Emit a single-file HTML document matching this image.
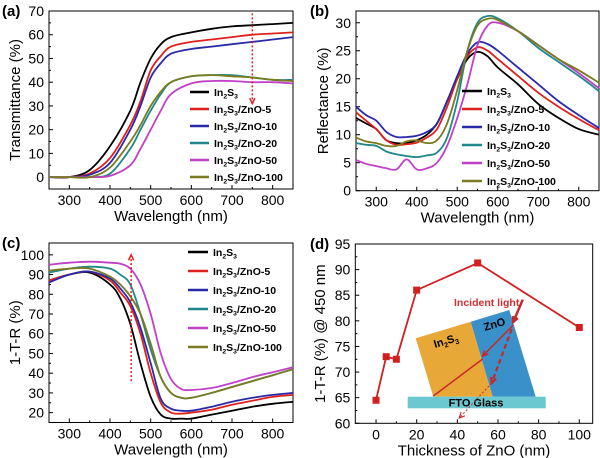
<!DOCTYPE html>
<html><head><meta charset="utf-8"><style>
html,body{margin:0;padding:0;background:#fff}
svg{display:block;font-family:"Liberation Sans",Arial,sans-serif}
</style></head><body>
<svg id="fig" width="600" height="458" viewBox="0 0 600 458"></svg>
<script>
// ---------- data ----------
const seriesNames=["In2S3","In2S3/ZnO-5","In2S3/ZnO-10","In2S3/ZnO-20","In2S3/ZnO-50","In2S3/ZnO-100"];
const seriesColors=["#000000","#e0201c","#2a2aa8","#20888a","#c040c8","#7a7a20"];
// (a) transmittance
const wlA=[250,300,350,400,450,475,500,525,550,600,650,700,750,800,850];
const tA0=[0,0,3,13,28,40,50,56,59,61,62.5,63.5,64,64.5,65];
const tA1=[0,0,1.5,8,22,32,45,51,55,57,58,59,60,60.5,61];
const tA2=[0,0,1,6,20,30,42,48,52,54,55,56,57,58,59];
const tA3=[0,0,0,1.5,12,20,28,35,40,42.5,43,43,42,41,41];
const tA4=[0,0,0,0.5,5,12,20,28,35,39.5,40.5,40.5,40,40,39.5];
const tA5=[0,0,0,4,15,22,30,36,40,42.5,43,42.5,42,41,40.5];
// (b) reflectance
const wlB=[250,275,300,325,350,375,400,425,450,475,500,525,550,575,600,650,700,750,800,850];
const rB0=[13,12,11,9,8.5,8.5,9,10,12,16,20,23.5,24.8,24,22,19,15.5,13,11,10];
const rB1=[14,12.5,11,9,8.2,8.3,8.6,9.5,11,15,20,24,25.6,25,23.5,20.5,17.5,15,12.8,10.8];
const rB2=[15,13.5,12.5,10.5,9.6,9.6,9.8,10.5,12,16,20.5,24.5,26.5,26.2,25,22,19,16,13.5,11.2];
const rB3=[8.5,8.2,8,7,6.5,6.2,6,6.3,6.8,9.5,16,25,30,31.2,30.8,28.5,25.5,23,20.5,17.8];
const rB4=[5.5,4.8,4.4,4,3.8,5.6,3.8,4,5,8,13,19,26,29.5,30,28.5,26,23.5,21,18.3];
const rB5=[9.5,8.8,8.5,8,8,8.8,9,8.5,9,12,18,25,29.5,30.7,30.5,28.5,26,23.5,21.5,19.3];
// (c) 1-T-R
const wlC=[250,300,350,400,425,450,475,500,525,550,575,600,650,700,750,800,850];
const aC0=[87,90,91,85,78,65,45,28,19,17,17,17,19,21,23,24.5,25.5];
const aC1=[87,90,91.5,87,81,74,60,40,25,20,19.5,20,21.5,24,26,28,29];
const aC2=[86,90,91.5,88,83,76,63,45,27,22,21,21,23,25.5,27.5,29,30];
const aC3=[91,93,94,93,90,85,70,52,38,30,27.5,27.5,30,33,36,39,42];
const aC4=[95,96,96.5,96,95.5,93,85,70,50,37,32,31.5,32.5,35,38,40.5,43];
const aC5=[92,93,93,89,85,79,70,55,38,30,27.5,27.5,30,33,36,39,42];
// (d) 1-T-R @450 vs thickness
const thickD=[0,5,10,20,50,100];
const valD=[64.5,73,72.5,86,91.3,78.7];
const ticksWl=[300,400,500,600,700,800];
const ticksA=[0,10,20,30,40,50,60,70];
const ticksB=[0,5,10,15,20,25,30];
const ticksC=[20,30,40,50,60,70,80,90,100];
const ticksDx=[0,20,40,60,80,100];
const ticksDy=[60,65,70,75,80,85,90,95];

const NS="http://www.w3.org/2000/svg";
const svg=document.getElementById('fig');
function mk(tag,attrs,parent){const e=document.createElementNS(NS,tag);for(const k in attrs)e.setAttribute(k,attrs[k]);(parent||svg).appendChild(e);return e;}
function scale(d0,d1,p0,p1){return v=>p0+(v-d0)/(d1-d0)*(p1-p0);}
function subText(parent,x,y,str,size,weight,anchor,fill){
  const t=mk('text',{x:x,y:y,'font-size':size,'font-weight':weight||'normal','text-anchor':anchor||'start',fill:fill||'#000'},parent);
  let s=str.replace('In2S3','In§2§S§3§');
  const segs=s.split('§');
  segs.forEach((sg,i)=>{if(!sg)return;const ts=mk('tspan',{},t);ts.textContent=sg;if(i%2===1){ts.setAttribute('font-size',size*0.65);ts.setAttribute('dy',size*0.25);}else if(i>0){ts.setAttribute('dy',-size*0.25);}});
  return t;
}
function panel(o){
  const g=mk('g',{});
  
  
  const X=scale(o.xd[0],o.xd[1],o.L,o.R), Y=scale(o.yd[0],o.yd[1],o.B,o.T);
  const box=mk('rect',{x:o.L,y:o.T,width:o.R-o.L,height:o.B-o.T,fill:'none',stroke:'#000','stroke-width':1},g);
  
  const xa=mk('g',{},g);
  o.xt.forEach((v,i)=>{const x=X(v);mk('line',{x1:x,x2:x,y1:o.B,y2:o.B-4,stroke:'#000'},xa);
    const t=mk('text',{x:x,y:o.B+16,'font-size':14,'text-anchor':'middle'},xa);t.textContent=v;
    
    if(i<o.xt.length-1){const xm=X((v+o.xt[i+1])/2);mk('line',{x1:xm,x2:xm,y1:o.B,y2:o.B-2,stroke:'#000'},xa);}});
  const ya=mk('g',{},g);
  o.yt.forEach((v,i)=>{const y=Y(v);mk('line',{x1:o.L,x2:o.L+4,y1:y,y2:y,stroke:'#000'},ya);
    const t=mk('text',{x:o.L-5,y:y+5,'font-size':14,'text-anchor':'end'},ya);t.textContent=v;
    
    if(i<o.yt.length-1){const ym=Y((v+o.yt[i+1])/2);mk('line',{x1:o.L,x2:o.L+2,y1:ym,y2:ym,stroke:'#000'},ya);}});
  const xt=mk('text',{x:(o.L+o.R)/2,y:o.B+32,'font-size':15,'text-anchor':'middle'},g);xt.textContent=o.xlabel;
  
  const ytl=mk('text',{x:0,y:0,'font-size':15,'text-anchor':'middle',transform:`translate(${o.ylx},${(o.T+o.B)/2}) rotate(-90)`},g);ytl.textContent=o.ylabel;
  
  const pl=mk('text',{x:o.plx,y:o.ply,'font-size':15,'font-weight':'bold'},g);pl.textContent=o.tag;
  
  return {g,X,Y};
}
function smoothPath(pts){
  let d='M'+pts[0][0].toFixed(1)+','+pts[0][1].toFixed(1);
  for(let i=0;i<pts.length-1;i++){
    const p0=pts[Math.max(0,i-1)],p1=pts[i],p2=pts[i+1],p3=pts[Math.min(pts.length-1,i+2)];
    const c1x=p1[0]+(p2[0]-p0[0])/6,c1y=p1[1]+(p2[1]-p0[1])/6;
    const c2x=p2[0]-(p3[0]-p1[0])/6,c2y=p2[1]-(p3[1]-p1[1])/6;
    d+=`C${c1x.toFixed(1)},${c1y.toFixed(1)} ${c2x.toFixed(1)},${c2y.toFixed(1)} ${p2[0].toFixed(1)},${p2[1].toFixed(1)}`;
  }
  return d;
}
function drawSeries(p,xs,ysArr){
  ysArr.forEach((ys,i)=>{
    const pts=xs.map((x,j)=>[p.X(x),p.Y(ys[j])]);
    const path=mk('path',{d:smoothPath(pts),fill:'none',stroke:seriesColors[i],'stroke-width':1.8,'stroke-linejoin':'round'},p.g);
    
    
  });
}
function legend(p,x1,x2,y0,dy){
  const lg=mk('g',{},p.g);
  seriesNames.forEach((n,i)=>{const y=y0+i*dy;
    const e=mk('g',{},lg);
    
    
    mk('line',{x1:x1,x2:x2,y1:y,y2:y,stroke:seriesColors[i],'stroke-width':2.5},e);
    subText(e,x2+5,y+4,n,10.5,'bold');});
}
function arrowLine(parent,x1,y1,x2,y2,color,w,dash,name){
  const l=mk('line',{x1:x1,y1:y1,x2:x2,y2:y2,stroke:color,'stroke-width':w},parent);
  if(dash)l.setAttribute('stroke-dasharray',dash);
  
  
  const a=Math.atan2(y2-y1,x2-x1),s=6;
  mk('path',{d:`M${x2-s*Math.cos(a-0.45)},${y2-s*Math.sin(a-0.45)}L${x2},${y2}L${x2-s*Math.cos(a+0.45)},${y2-s*Math.sin(a+0.45)}`,fill:'none',stroke:color,'stroke-width':Math.max(1.2,w)},parent);
}

// (a)
const pa=panel({name:'panel-a-transmittance',L:49,R:293,T:11,B:189,xd:[250,850],yd:[-5,70],xt:ticksWl,yt:ticksA,xlabel:'Wavelength (nm)',ylabel:'Transmittance (%)',ylx:20,tag:'(a)',plx:2,ply:16});
drawSeries(pa,wlA,[tA0,tA1,tA2,tA3,tA4,tA5]);
legend(pa,190,209,92,17);
arrowLine(pa.g,pa.X(750),pa.Y(69),pa.X(750),pa.Y(31),'#e0201c',1.5,'2,2','trend-arrow');

// (b)
const pb=panel({name:'panel-b-reflectance',L:356,R:599,T:11,B:190.7,xd:[250,850],yd:[0,32.1],xt:ticksWl,yt:ticksB,xlabel:'Wavelength (nm)',ylabel:'Reflectance (%)',ylx:328,tag:'(b)',plx:310,ply:16});
drawSeries(pb,wlB,[rB0,rB1,rB2,rB3,rB4,rB5]);
legend(pb,462,482,91,18);

// (c)
const pc=panel({name:'panel-c-absorptance',L:49,R:293,T:243,B:422.5,xd:[250,850],yd:[15,106],xt:ticksWl,yt:ticksC,xlabel:'Wavelength (nm)',ylabel:'1-T-R (%)',ylx:20,tag:'(c)',plx:2,ply:248});
drawSeries(pc,wlC,[aC0,aC1,aC2,aC3,aC4,aC5]);
legend(pc,188,208,252,19);
arrowLine(pc.g,pc.X(452),pc.Y(36),pc.X(452),pc.Y(100),'#e0201c',1.5,'2,2','trend-arrow');

// (d)
const pd=panel({name:'panel-d-thickness',L:355.3,R:592.7,T:244,B:423.3,xd:[-10.2,106.6],yd:[60,95],xt:ticksDx,yt:ticksDy,xlabel:'Thickness of ZnO (nm)',ylabel:'1-T-R (%) @ 450 nm',ylx:325,tag:'(d)',plx:310,ply:249});
const ins=mk('g',{},pd.g);
const o1=mk('polygon',{points:'415.7,338.3 470.7,321.7 492.7,396.7 433.3,396.7',fill:'#e8a838'},ins);
const o2=mk('polygon',{points:'470.7,321.7 509.3,310 535.7,396.7 492.7,396.7',fill:'#3a90c8'},ins);
const o3=mk('rect',{x:407.7,y:396.7,width:138,height:11.6,fill:'#6cc8d0'},ins);
const ft=mk('text',{x:476,y:406.5,'font-size':11,'font-weight':'bold','text-anchor':'middle'},ins);ft.textContent='FTO Glass';
const zt=mk('text',{x:0,y:0,'font-size':11,'font-weight':'bold',transform:'translate(485,331) rotate(-17)'},ins);zt.textContent='ZnO';
const it=subText(ins,0,0,'In2S3',11,'bold');it.setAttribute('transform','translate(435,348) rotate(-17)');
const il=mk('text',{x:454,y:306,'font-size':10.5,'font-weight':'bold',fill:'#d03030'},ins);il.textContent='Incident light';
arrowLine(ins,522.7,299.7,513.3,322,'#c82828',2.5,null,'incident-arrow');
arrowLine(ins,513.3,325,482.7,356,'#c82828',1.5,null,'refracted-arrow');
mk('line',{x1:482.7,y1:359,x2:433.3,y2:396,stroke:'#c82828','stroke-width':1.5},ins);
arrowLine(ins,511.7,329,491.7,383,'#c82828',2.2,'5,3','reflected-arrow');
arrowLine(ins,491.7,383,459.3,418,'#c82828',1,'2,2','transmitted-arrow');
const dD=thickD.map((x,j)=>(j?'L':'M')+pd.X(x).toFixed(1)+','+pd.Y(valD[j]).toFixed(1)).join('');
const dl=mk('path',{d:dD,fill:'none',stroke:'#d02020','stroke-width':1.8},pd.g);


thickD.forEach((x,j)=>{
  const m=mk('rect',{x:pd.X(x)-3.5,y:pd.Y(valD[j])-3.5,width:7,height:7,fill:'#d02020'},pd.g);
  
  
});
</script>
</body></html>
